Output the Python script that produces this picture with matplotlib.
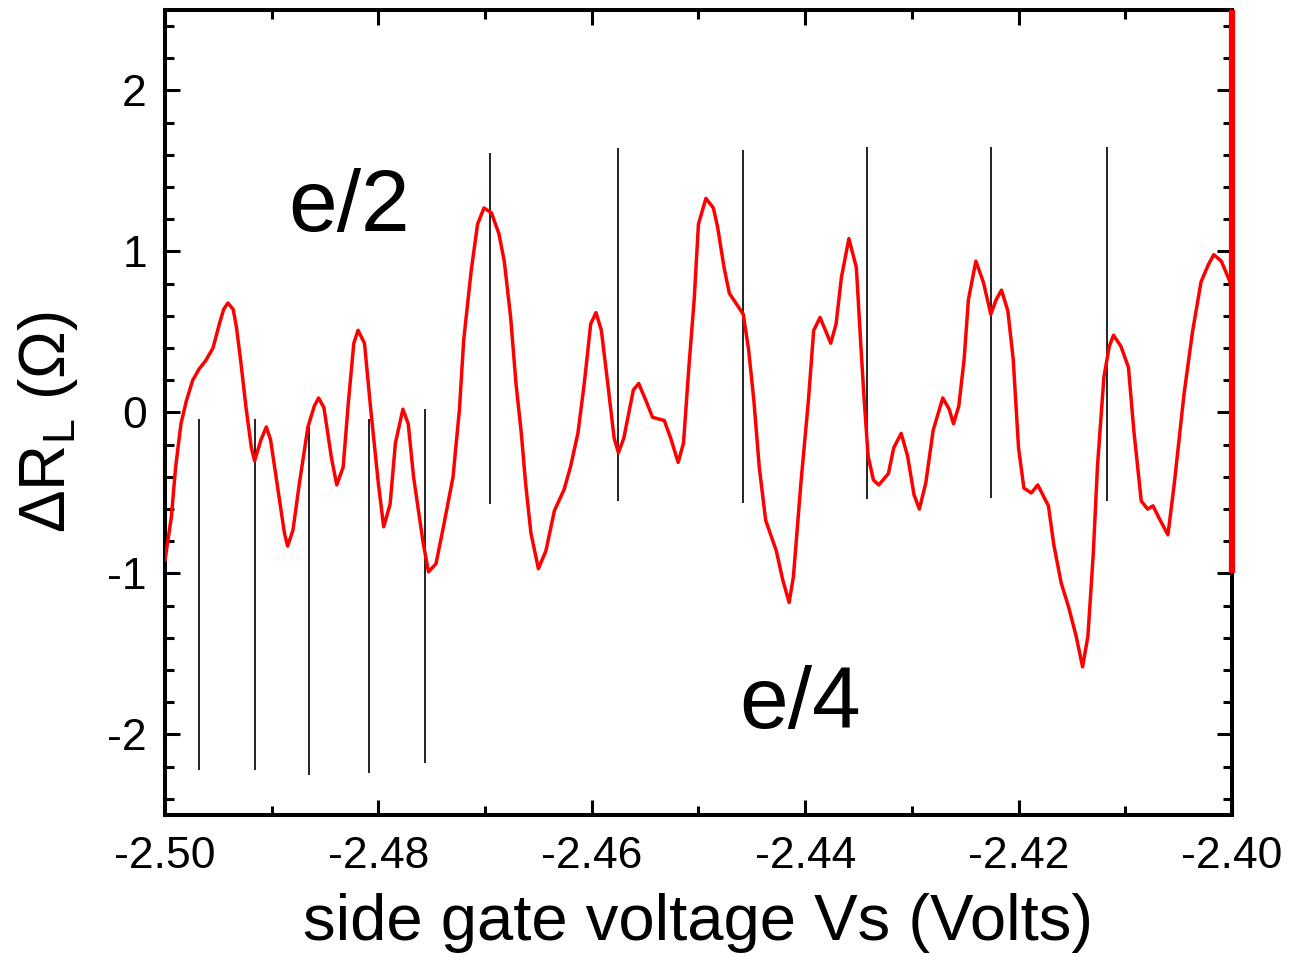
import numpy as np
import matplotlib
matplotlib.use("Agg")
import matplotlib.pyplot as plt
from matplotlib.ticker import MultipleLocator, FormatStrFormatter

plt.rcParams['font.family'] = ['Liberation Sans', 'DejaVu Sans']
plt.rcParams['mathtext.fontset'] = 'custom'
plt.rcParams['mathtext.rm'] = 'Liberation Sans'
plt.rcParams['mathtext.it'] = 'Liberation Sans:italic'
plt.rcParams['axes.unicode_minus'] = False

# === Measured trace: side gate voltage (V) vs. delta R_L (Ohm) ===
vs = [-2.5000, -2.4994, -2.4990, -2.4985, -2.4980, -2.4974, -2.4968, -2.4962,
      -2.4955, -2.4949, -2.4945, -2.4941, -2.4936, -2.4933, -2.4929, -2.4924,
      -2.4919, -2.4916, -2.4910, -2.4905, -2.4901, -2.4894, -2.4888, -2.4885,
      -2.4880, -2.4874, -2.4866, -2.4860, -2.4856, -2.4851, -2.4844, -2.4839,
      -2.4833, -2.4828, -2.4823, -2.4819, -2.4813, -2.4807, -2.4800, -2.4795,
      -2.4789, -2.4784, -2.4777, -2.4772, -2.4767, -2.4758, -2.4753, -2.4746,
      -2.4739, -2.4730, -2.4724, -2.4720, -2.4713, -2.4707, -2.4701, -2.4694,
      -2.4687, -2.4682, -2.4676, -2.4671, -2.4666, -2.4662, -2.4657, -2.4650,
      -2.4643, -2.4635, -2.4626, -2.4620, -2.4613, -2.4607, -2.4601, -2.4596,
      -2.4591, -2.4585, -2.4579, -2.4575, -2.4570, -2.4561, -2.4556, -2.4549,
      -2.4543, -2.4532, -2.4526, -2.4519, -2.4514, -2.4509, -2.4504, -2.4500,
      -2.4493, -2.4486, -2.4482, -2.4476, -2.4471, -2.4463, -2.4458, -2.4453,
      -2.4448, -2.4443, -2.4437, -2.4427, -2.4421, -2.4415, -2.4411, -2.4404,
      -2.4397, -2.4392, -2.4386, -2.4381, -2.4376, -2.4371, -2.4366, -2.4359,
      -2.4352, -2.4348, -2.4345, -2.4341, -2.4336, -2.4331, -2.4322, -2.4317,
      -2.4310, -2.4304, -2.4298, -2.4293, -2.4287, -2.4280, -2.4271, -2.4265,
      -2.4261, -2.4256, -2.4251, -2.4247, -2.4240, -2.4233, -2.4226, -2.4221,
      -2.4216, -2.4210, -2.4205, -2.4200, -2.4195, -2.4188, -2.4182, -2.4172,
      -2.4167, -2.4160, -2.4153, -2.4146, -2.4140, -2.4135, -2.4130, -2.4126,
      -2.4120, -2.4115, -2.4111, -2.4104, -2.4097, -2.4092, -2.4085, -2.4079,
      -2.4074, -2.4068, -2.4060, -2.4054, -2.4045, -2.4037, -2.4029, -2.4022,
      -2.4017, -2.4010, -2.4003, -2.4000]
dR = [-0.92, -0.65, -0.34, -0.07, 0.07, 0.20, 0.27, 0.32,
      0.40, 0.55, 0.64, 0.68, 0.64, 0.53, 0.32, 0.03,
      -0.22, -0.30, -0.17, -0.09, -0.17, -0.48, -0.75, -0.83,
      -0.73, -0.44, -0.09, 0.04, 0.09, 0.03, -0.28, -0.45,
      -0.34, 0.07, 0.43, 0.51, 0.43, 0.01, -0.44, -0.71,
      -0.57, -0.19, 0.02, -0.07, -0.40, -0.81, -0.99, -0.94,
      -0.71, -0.40, 0.02, 0.45, 0.88, 1.17, 1.27, 1.24,
      1.11, 0.94, 0.59, 0.18, -0.13, -0.44, -0.75, -0.97,
      -0.86, -0.61, -0.48, -0.34, -0.13, 0.18, 0.55, 0.62,
      0.51, 0.18, -0.16, -0.25, -0.16, 0.14, 0.18, 0.07,
      -0.03, -0.05, -0.16, -0.31, -0.19, 0.28, 0.70, 1.17,
      1.33, 1.27, 1.15, 0.90, 0.74, 0.66, 0.61, 0.39,
      0.07, -0.34, -0.67, -0.86, -1.04, -1.18, -1.02, -0.44,
      0.07, 0.51, 0.59, 0.51, 0.43, 0.55, 0.84, 1.08,
      0.90, 0.44, 0.11, -0.27, -0.42, -0.45, -0.38, -0.22,
      -0.13, -0.27, -0.51, -0.60, -0.44, -0.11, 0.09, 0.02,
      -0.07, 0.04, 0.33, 0.70, 0.94, 0.81, 0.61, 0.70,
      0.76, 0.63, 0.33, -0.22, -0.47, -0.50, -0.45, -0.58,
      -0.82, -1.06, -1.21, -1.39, -1.58, -1.39, -0.88, -0.33,
      0.22, 0.41, 0.48, 0.41, 0.28, -0.11, -0.55, -0.60,
      -0.58, -0.66, -0.76, -0.44, 0.11, 0.50, 0.81, 0.92,
      0.98, 0.94, 0.83, 0.78]

# marker lines: e/4 spacing (lower group) and e/2 spacing (upper group)
e4_pos = [-2.49684, -2.49157, -2.48653, -2.48085, -2.47563]
e4_top = [-0.04, -0.04, -0.05, -0.04, 0.02]
e4_bot = [-2.22, -2.22, -2.25, -2.24, -2.18]

e2_pos = [-2.46954, -2.45754, -2.44583, -2.43421, -2.42259, -2.41171]
e2_top = [1.61, 1.64, 1.63, 1.65, 1.65, 1.65]
e2_bot = [-0.57, -0.55, -0.56, -0.54, -0.53, -0.55]

fig = plt.figure(figsize=(13.06, 9.57), dpi=100)
ax = fig.add_axes([0.1263, 0.1484, 0.8170, 0.8412])

ax.plot(vs, dR, color='red', lw=2.5, zorder=3,
        solid_joinstyle='round', solid_capstyle='round')
ax.vlines(e4_pos, e4_bot, e4_top, color='#222222', lw=1.4, zorder=2)
ax.vlines(e2_pos, e2_bot, e2_top, color='#222222', lw=1.4, zorder=2)

# red segment over the right frame
ax.plot([-2.40, -2.40], [-1.0, 2.5], color='red', lw=4.5, clip_on=False,
        solid_capstyle='butt', zorder=6)

ax.text(-2.4884, 1.13, "e/2", fontsize=63, ha='left', va='baseline')
ax.text(-2.4462, -1.96, "e/4", fontsize=63, ha='left', va='baseline')

ax.set_xlim(-2.50, -2.40)
ax.set_ylim(-2.5, 2.5)
ax.xaxis.set_major_locator(MultipleLocator(0.02))
ax.xaxis.set_minor_locator(MultipleLocator(0.01))
ax.xaxis.set_major_formatter(FormatStrFormatter('%.2f'))
ax.yaxis.set_major_locator(MultipleLocator(1))
ax.yaxis.set_minor_locator(MultipleLocator(0.2))
ax.yaxis.set_major_formatter(FormatStrFormatter('%d'))

ax.tick_params(which='both', direction='in', top=True, right=True, width=2.2,
               labelsize=32)
ax.tick_params(which='major', length=10.5)
ax.tick_params(which='minor', length=6.5)
ax.tick_params(axis='x', pad=15)
ax.tick_params(axis='y', pad=13)
for s in ax.spines.values():
    s.set_linewidth(2.9)

fig.text(0.5345, 0.0178, "side gate voltage Vs (Volts)", fontsize=47,
         ha='center', va='baseline')
fig.text(0.037, 0.559, r"ΔR$_{\mathrm{L}}$ (Ω)", fontsize=46, rotation=90,
         ha='center', va='center')

fig.savefig("out.png", dpi=100)
